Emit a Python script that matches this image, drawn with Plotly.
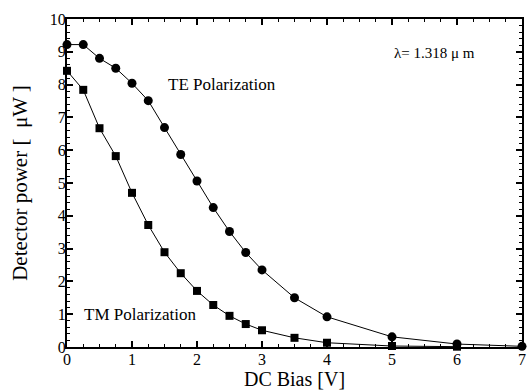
import plotly.graph_objects as go

bias = [0, 0.25, 0.5, 0.75, 1.0, 1.25, 1.5, 1.75, 2.0, 2.25, 2.5, 2.75, 3.0, 3.5, 4.0, 5.0, 6.0, 7.0]
te_power = [9.22, 9.22, 8.80, 8.50, 8.04, 7.51, 6.69, 5.87, 5.06, 4.25, 3.52, 2.88, 2.35, 1.50, 0.92, 0.31, 0.09, 0.02]
tm_bias = [0, 0.25, 0.5, 0.75, 1.0, 1.25, 1.5, 1.75, 2.0, 2.25, 2.5, 2.75, 3.0, 3.5, 4.0, 5.0, 6.0]
tm_power = [8.42, 7.84, 6.67, 5.82, 4.70, 3.72, 2.89, 2.25, 1.71, 1.28, 0.95, 0.70, 0.51, 0.28, 0.13, 0.03, 0.01]

font = "Liberation Serif, Times New Roman, serif"

fig = go.Figure()
fig.add_trace(go.Scatter(x=bias, y=te_power, mode="lines+markers",
                         line=dict(color="black", width=1),
                         marker=dict(symbol="circle", size=9, color="black"),
                         showlegend=False, cliponaxis=False))
fig.add_trace(go.Scatter(x=tm_bias, y=tm_power, mode="lines+markers",
                         line=dict(color="black", width=1),
                         marker=dict(symbol="square", size=8, color="black"),
                         showlegend=False, cliponaxis=False))

axis_common = dict(showgrid=False, zeroline=False, showline=True, linecolor="black", linewidth=2,
                   mirror="allticks", ticks="inside", ticklen=6, tickwidth=1.5, tickcolor="black",
                   tickfont=dict(family=font, size=16, color="black"))

fig.update_xaxes(range=[0, 7], dtick=1, tick0=0, ticklabelstandoff=-3,
                 minor=dict(dtick=0.25, ticks="inside", ticklen=3, tickcolor="black", tickwidth=1),
                 title=dict(text="DC Bias [V]", font=dict(family=font, size=20, color="black"), standoff=4),
                 **axis_common)
fig.update_yaxes(range=[0, 10], dtick=1, tick0=0, ticklabelstandoff=-4,
                 minor=dict(dtick=0.2, ticks="inside", ticklen=3, tickcolor="black", tickwidth=1),
                 title=dict(text="Detector power [  μW ]", font=dict(family=font, size=21, color="black"), standoff=16),
                 **axis_common)

fig.add_annotation(x=2.38, y=8.0, text="TE Polarization", showarrow=False,
                   font=dict(family=font, size=17, color="black"))
fig.add_annotation(x=1.13, y=0.98, text="TM Polarization", showarrow=False,
                   font=dict(family=font, size=17, color="black"))
fig.add_annotation(x=5.65, y=8.97, text="λ= 1.318 μ m", showarrow=False,
                   font=dict(family=font, size=15, color="black"))

fig.update_layout(width=529, height=392, margin=dict(l=67, r=3, t=19, b=45),
                  plot_bgcolor="white", paper_bgcolor="white")

fig.write_html("out.html")
